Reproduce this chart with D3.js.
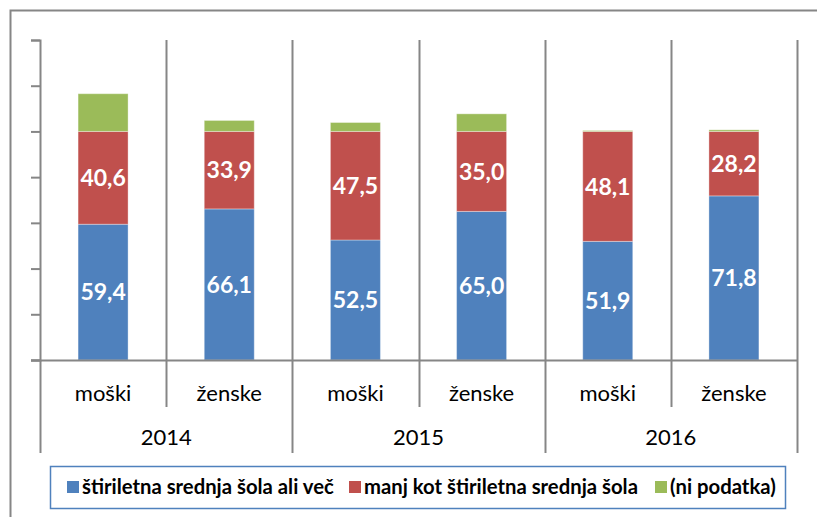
<!DOCTYPE html>
<html>
<head>
<meta charset="utf-8">
<script src="https://cdn.jsdelivr.net/npm/d3@7"></script>
<style>
  body { margin: 0; background: #fff; }
  svg { display: block; font-family: Lato, "Open Sans", sans-serif; }
</style>
</head>
<body>
<div id="chart-container"></div>
<script>
// data
const years = ["2014", "2015", "2016"];
const genders = ["moški", "ženske"];
const categories = ["2014|moški", "2014|ženske", "2015|moški", "2015|ženske", "2016|moški", "2016|ženske"];
const seriesNames = ["štiriletna srednja šola ali več", "manj kot štiriletna srednja šola", "(ni podatka)"];
const upperSecondary = [59.4, 66.1, 52.5, 65.0, 51.9, 71.8];
const lowerSecondary = [40.6, 33.9, 47.5, 35.0, 48.1, 28.2];
const noData = [16.5, 4.8, 3.9, 7.7, 0.4, 0.7];
const yTicks = [0, 20, 40, 60, 80, 100, 120, 140];

const colors = ["#4F81BD", "#C0504D", "#9BBB59"];
const gridColor = "#868686";

const width = 817, height = 517;
const margin = { left: 40, right: 20, top: 40, bottom: 157 };
const plotBottom = 360, plotRight = 797;

d3.select("#chart-container").html("");
const svg = d3.select("#chart-container")
  .append("svg")
  .attr("width", width)
  .attr("height", height);

// outer frame (only top and left edges are visible)
svg.append("path")
  .attr("d", `M10.5,${height} V10.5 H${width}`)
  .attr("fill", "none")
  .attr("stroke", gridColor)
  .attr("stroke-width", 2);

// scales
const x = d3.scaleBand()
  .domain(categories)
  .range([margin.left, plotRight])
  .paddingInner(0)
  .paddingOuter(0);

const y = d3.scaleLinear()
  .domain([0, 140])
  .range([plotBottom, margin.top]);

// stacked data
const rows = categories.map((c, i) => ({
  cat: c, s0: upperSecondary[i], s1: lowerSecondary[i], s2: noData[i]
}));
const stack = d3.stack().keys(["s0", "s1", "s2"]);
const stacked = stack(rows);

// vertical gridlines at category boundaries
const boundaries = categories.map(c => x(c) + x.bandwidth());
svg.append("g")
  .selectAll("line")
  .data(boundaries)
  .join("line")
  .attr("x1", d => Math.round(d) + 0.5)
  .attr("x2", d => Math.round(d) + 0.5)
  .attr("y1", y(140))
  .attr("y2", plotBottom)
  .attr("stroke", gridColor)
  .attr("stroke-width", 2);

// y axis (ticks only, no labels)
const yAxis = svg.append("g")
  .attr("transform", `translate(${margin.left},0)`)
  .call(d3.axisLeft(y).tickValues(yTicks).tickSize(9).tickFormat(""));
yAxis.selectAll("path, line").attr("stroke", gridColor).attr("stroke-width", 2);

// bars
const barW = 50;
const layers = svg.append("g")
  .selectAll("g")
  .data(stacked)
  .join("g")
  .attr("fill", (d, i) => colors[i]);

layers.selectAll("rect")
  .data(d => d)
  .join("rect")
  .attr("x", d => x(d.data.cat) + x.bandwidth() / 2 - barW / 2)
  .attr("width", barW)
  .attr("y", d => y(d[1]))
  .attr("height", d => y(d[0]) - y(d[1]))
  .attr("stroke", "rgba(255,255,255,0.35)")
  .attr("stroke-width", 1);

// value labels for first two series
stacked.slice(0, 2).forEach(layer => {
  svg.append("g")
    .selectAll("text")
    .data(layer)
    .join("text")
    .attr("x", d => x(d.data.cat) + x.bandwidth() / 2)
    .attr("y", d => (y(d[0]) + y(d[1])) / 2)
    .attr("dy", "0.36em")
    .attr("text-anchor", "middle")
    .attr("fill", "#fff")
    .style("font-size", "23px")
    .style("font-weight", "bold")
    .text(d => d3.format(".1f")(d[1] - d[0]).replace(".", ","));
});

// x axis baseline
svg.append("line")
  .attr("x1", margin.left - 9).attr("x2", plotRight + 1)
  .attr("y1", plotBottom + 0.5).attr("y2", plotBottom + 0.5)
  .attr("stroke", gridColor).attr("stroke-width", 2);

// category separators below axis
const sepData = [{ x: margin.left, long: true }].concat(
  boundaries.map((b, i) => ({ x: b, long: i % 2 === 1 }))
);
svg.append("g")
  .selectAll("line")
  .data(sepData)
  .join("line")
  .attr("x1", d => Math.round(d.x) + 0.5)
  .attr("x2", d => Math.round(d.x) + 0.5)
  .attr("y1", plotBottom)
  .attr("y2", d => d.long ? 453 : 407)
  .attr("stroke", gridColor)
  .attr("stroke-width", 2);

// gender labels
svg.append("g")
  .selectAll("text")
  .data(categories)
  .join("text")
  .attr("x", d => x(d) + x.bandwidth() / 2)
  .attr("y", 393)
  .attr("dy", "0.35em")
  .attr("text-anchor", "middle")
  .attr("fill", "#000")
  .style("font-size", "22px")
  .text(d => d.split("|")[1]);

// year labels
svg.append("g")
  .selectAll("text")
  .data(years)
  .join("text")
  .attr("x", d => x(d + "|moški") + x.bandwidth())
  .attr("y", 437)
  .attr("dy", "0.35em")
  .attr("text-anchor", "middle")
  .attr("fill", "#000")
  .style("font-size", "22px")
  .text(d => d);

// legend
const legend = svg.append("g");
legend.append("rect")
  .attr("x", 50.5).attr("y", 466.5)
  .attr("width", 735).attr("height", 42)
  .attr("fill", "#fff")
  .attr("stroke", "#4F81BD")
  .attr("stroke-width", 1.5);

const legendX = [67, 349, 655];
const items = legend.selectAll("g.item")
  .data(seriesNames)
  .join("g")
  .attr("class", "item")
  .attr("transform", (d, i) => `translate(${legendX[i]},487)`);

items.append("rect")
  .attr("x", 0).attr("y", -6)
  .attr("width", 12).attr("height", 12)
  .attr("fill", (d, i) => colors[i]);

items.append("text")
  .attr("x", 15)
  .attr("dy", "0.35em")
  .attr("fill", "#000")
  .style("font-size", "20.3px")
  .style("font-weight", "bold")
  .text(d => d);
</script>
</body>
</html>
